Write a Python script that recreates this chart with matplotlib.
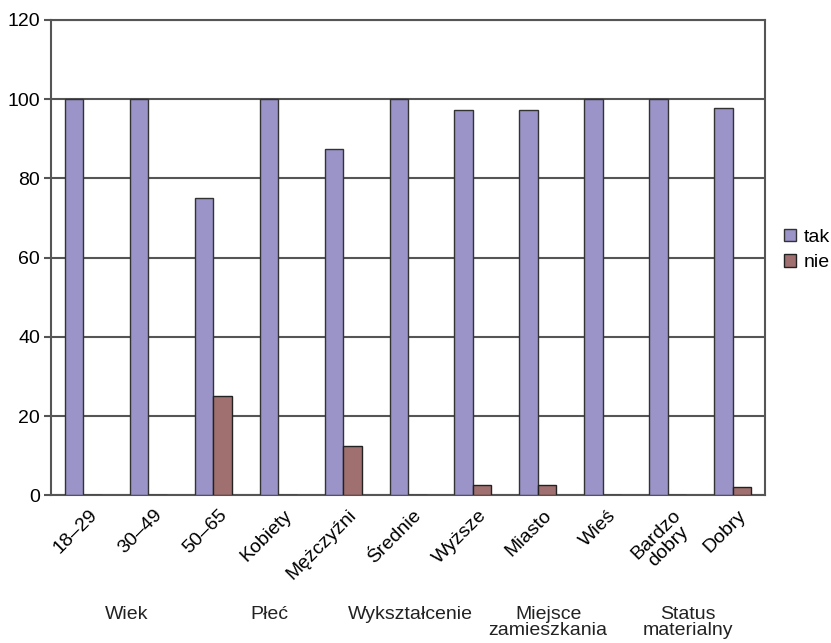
import matplotlib.pyplot as plt
import matplotlib.transforms as mtransforms
import numpy as np

plt.rcParams['font.family'] = ['Liberation Sans', 'DejaVu Sans']

kategorie = ['18–29', '30–49', '50–65', 'Kobiety', 'Mężczyźni', 'Średnie',
             'Wyższe', 'Miasto', 'Wieś', 'Bardzo\ndobry', 'Dobry']
tak = [100, 100, 75, 100, 87.5, 100, 97.3, 97.3, 100, 100, 97.9]
nie = [0, 0, 25, 0, 12.5, 0, 2.7, 2.7, 0, 0, 2.1]

grupy = ['Wiek', 'Płeć', 'Wykształcenie', 'Miejsce\nzamieszkania', 'Status\nmaterialny']
grupy_x = [0.66, 2.87, 5.03, 7.16, 9.31]

kolor_tak = '#9a94c8'
kolor_nie = '#a07070'

fig = plt.figure(figsize=(8.31, 6.43), dpi=100)
ax = fig.add_axes([0.0614, 0.2294, 0.8592, 0.7396])

x = np.arange(len(kategorie))
w = 0.285
ax.bar(x - w / 2, tak, w, color=kolor_tak, edgecolor='#333333', linewidth=1.0,
       label='tak', zorder=3)
ax.bar(x + w / 2, nie, w, color=kolor_nie, edgecolor='#222222', linewidth=1.0,
       label='nie', zorder=3)

ax.set_xlim(-0.5, len(kategorie) - 0.5)
ax.set_ylim(0, 120)
ax.set_yticks(range(0, 121, 20))
ax.yaxis.grid(True, color='#555555', linewidth=1.5, zorder=0)
for s in ax.spines.values():
    s.set_color('#555555')
    s.set_linewidth(1.5)

ax.tick_params(axis='y', labelsize=14, length=5, width=1.5, color='#555555', pad=3)
ax.tick_params(axis='x', length=0, pad=8)
ax.set_xticks(x)
ax.set_xticklabels(kategorie, rotation=45, ha='right', va='top',
                   rotation_mode='anchor', fontsize=14, multialignment='center',
                   linespacing=1.0)
offset = mtransforms.ScaledTranslation(5 / 100, 0, fig.dpi_scale_trans)
for lab in ax.get_xticklabels():
    lab.set_transform(lab.get_transform() + offset)

for gx, g in zip(grupy_x, grupy):
    ax.text(gx, -0.232, g, transform=ax.get_xaxis_transform(), ha='center',
            va='top', fontsize=14, linespacing=0.95, color='#222222')

fig.legend(*ax.get_legend_handles_labels(), loc='center left',
           bbox_to_anchor=(784 / 831, 1 - 250 / 643), frameon=False,
           fontsize=14, handlelength=0.6, handleheight=0.6, handletextpad=0.4,
           labelspacing=0.45, borderaxespad=0, borderpad=0)

fig.savefig('out.png', dpi=100)
